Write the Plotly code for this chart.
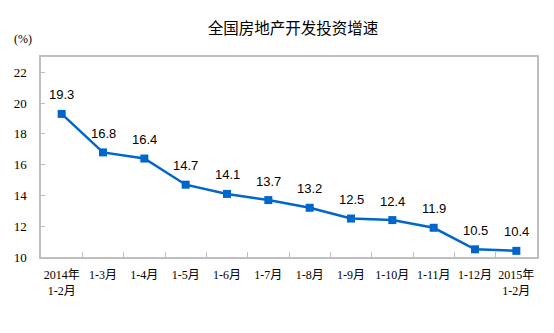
import plotly.graph_objects as go

categories = ["2014年<br>1-2月", "1-3月", "1-4月", "1-5月", "1-6月", "1-7月", "1-8月",
              "1-9月", "1-10月", "1-11月", "1-12月", "2015年<br>1-2月"]
values = [19.3, 16.8, 16.4, 14.7, 14.1, 13.7, 13.2, 12.5, 12.4, 11.9, 10.5, 10.4]
labels = ["19.3", "16.8", "16.4", "14.7", "14.1", "13.7", "13.2", "12.5", "12.4", "11.9", "10.5", "10.4"]
y_ticks = [10, 12, 14, 16, 18, 20, 22]

blue = "#0066CC"
axis_color = "#BFBFBF"
serif = "Liberation Serif, Noto Sans CJK SC"

fig = go.Figure()
fig.add_trace(go.Scatter(
    x=categories, y=values, mode="lines+markers",
    line=dict(color=blue, width=2.5),
    marker=dict(symbol="square", size=8, color=blue),
    cliponaxis=False, hoverinfo="skip",
))

annotations = [dict(x=c, y=v, text=t, showarrow=False, yshift=19,
                    font=dict(family="Liberation Sans, Arial", size=13, color="#000000"))
               for c, v, t in zip(categories, values, labels)]
annotations.append(dict(text="(%)", xref="paper", yref="paper", x=-0.058, y=1.0 + 18 / 200,
                        xanchor="left", yanchor="middle", showarrow=False,
                        font=dict(family=serif, size=12, color="#000000")))

fig.update_layout(
    width=554, height=333,
    margin=dict(l=41, r=17, t=57, b=76),
    paper_bgcolor="white", plot_bgcolor="white",
    showlegend=False,
    title=dict(text="全国房地产开发投资增速", x=0.508, xref="paper", xanchor="center",
               y=0.913, yref="container", yanchor="middle",
               font=dict(family="Noto Sans CJK SC", size=15.5, color="#000000")),
    xaxis=dict(
        type="category", showgrid=False, showline=True, linecolor=axis_color, linewidth=1.5,
        mirror=True, ticks="inside", ticklen=5, tickcolor=axis_color, tickson="boundaries",
        tickangle=0, ticklabelstandoff=6,
        tickfont=dict(family=serif, size=12, color="#000000"),
        range=[-0.5, 11.5],
    ),
    yaxis=dict(
        range=[10, 23], tickvals=y_ticks, showgrid=False, showline=True, linecolor=axis_color,
        linewidth=1.5, mirror=True, ticks="inside", ticklen=4, tickcolor=axis_color,
        ticklabelstandoff=10,
        tickfont=dict(family=serif, size=13, color="#000000"), zeroline=False,
    ),
    annotations=annotations,
)

fig.write_html("out.html")
